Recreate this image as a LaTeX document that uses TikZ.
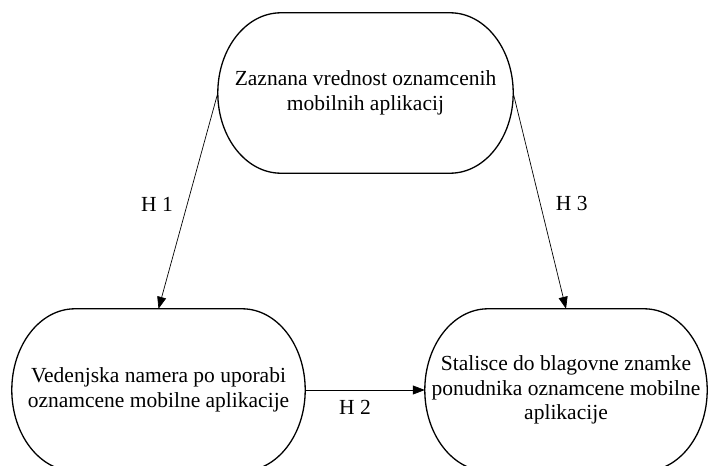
\documentclass[tikz,border=0pt]{standalone}
\usepackage{fontspec}
\setmainfont{Liberation Serif}
\usetikzlibrary{arrows.meta,calc}

\tikzstyle{concept}=[rectangle, align=center, inner sep=0pt, font=\fontsize{21.5}{24.5}\selectfont]
\tikzstyle{outline}=[line width=1.3pt]
\tikzstyle{arrow}=[line width=0.7pt, -{Triangle[length=12pt, width=9pt]}]
\tikzstyle{hyp}=[inner sep=0pt, font=\fontsize{21.5}{24.5}\selectfont]

\begin{document}
\begin{tikzpicture}[x=1pt, y=1pt]
\useasboundingbox (0,0) rectangle (708,-465);

\node(pv)[concept, minimum width=295pt, minimum height=160pt] at (365.5,-93){Zaznana vrednost oznamcenih\\mobilnih aplikacij};
\node(vn)[concept, minimum width=293pt, minimum height=162pt] at (158.5,-390){Vedenjska namera po uporabi\\oznamcene mobilne aplikacije};
\node(st)[concept, minimum width=282pt, minimum height=162pt] at (566,-390){Stalisce do blagovne znamke\\ponudnika oznamcene mobilne\\aplikacije};

% outlines with elliptic ends
\foreach \nd in {pv,vn,st}
  \draw[outline] let \p1=(\nd.north west), \p2=(\nd.south east) in
    (\x1+63pt,\y1) -- (\x2-63pt,\y1)
    arc[start angle=90, end angle=-90, x radius=63pt, y radius={(\y1-\y2)/2}]
    -- (\x1+63pt,\y2)
    arc[start angle=270, end angle=90, x radius=63pt, y radius={(\y1-\y2)/2}] -- cycle;

\draw[arrow](pv.west)--(vn.north) node[hyp, midway, left=15pt, yshift=-4pt]{H 1};
\draw[arrow](pv.east)--(st.north) node[hyp, midway, right=16pt, yshift=-3pt]{H 3};
\draw[arrow](vn.east)--(st.west) node[hyp, midway, below=10pt, xshift=-10pt]{H 2};

\end{tikzpicture}
\end{document}
